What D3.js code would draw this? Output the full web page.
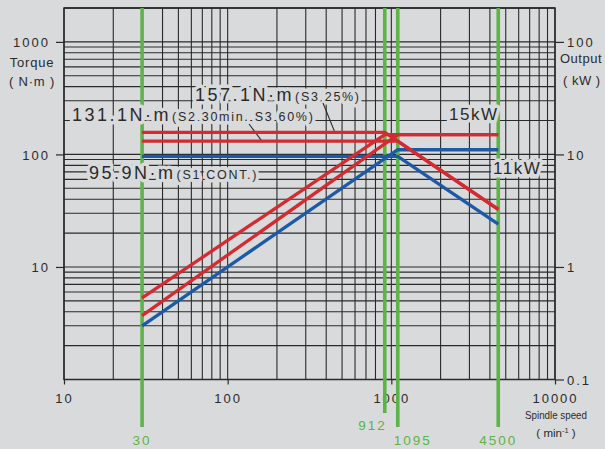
<!DOCTYPE html>
<html>
<head>
<meta charset="utf-8">
<script src="https://cdn.jsdelivr.net/npm/d3@7/dist/d3.min.js"></script>
<style>
  html, body { margin: 0; padding: 0; background: #d9dadc; }
  svg { display: block; font-family: "Liberation Sans", Arial, sans-serif; }
</style>
</head>
<body>
<svg id="chart" width="605" height="449"></svg>
<script>
// Spindle motor output characteristics (torque / output vs. spindle speed)

// Speeds marked on the x axis (min^-1)
const markedSpeeds = [30, 912, 1095, 4500];
const markedSpeedLabels = ["30", "912", "1095", "4500"];

// Duty ratings
const ratings = ["S3 25%", "S2 30min. S3 60%", "S1 CONT."];
const ratingTorque = [157.1, 131.1, 95.9];      // N·m, constant-torque range
const ratingPower = [15, 15, 11];               // kW, constant-power range
const ratingBaseSpeed = [912, 1095, 1095];      // min^-1
const ratingStartPower = [0.53, 0.37, 0.30];    // kW at 30 min^-1
const ratingEndTorque = [32.5, 32.5, 24];       // N·m at 4500 min^-1
const ratingColor = ["#d52a30", "#d52a30", "#1c5aa8"];
const minSpeed = 30;
const maxSpeed = 4500;

// Axis ticks
const speedTicks = [10, 100, 1000, 10000];
const torqueTicks = [10, 100, 1000];
const powerTicks = [0.1, 1, 10, 100];

const svg = d3.select("#chart");
const plot = { left: 64, right: 555, top: 8, bottom: 379.5 };

const x = d3.scaleLog().domain([10, 10000]).range([plot.left, plot.right]);
const yT = d3.scaleLog().domain([1, 2000]).range([plot.bottom, plot.top]);
const yP = d3.scaleLog().domain([0.1, 200]).range([plot.bottom, plot.top]);

const ink = "#2a2a2a";
const green = "#5cb447";
const bg = "#d9dadc";

// Grid
const gridX = [];
for (let d = 10; d < 10000; d *= 10) for (let k = 1; k <= 9; k++) gridX.push(d * k);
gridX.push(10000);
const gridY = [];
for (let d = 1; d < 2000; d *= 10) for (let k = 1; k <= 9; k++) if (d * k <= 2000) gridY.push(d * k);
gridY.push(2000);

const grid = svg.append("g");
grid.selectAll("line.gx").data(gridX).join("line")
  .attr("x1", d => x(d)).attr("x2", d => x(d))
  .attr("y1", plot.top).attr("y2", plot.bottom)
  .attr("stroke", ink).attr("stroke-width", 1.1);
grid.selectAll("line.gy").data(gridY).join("line")
  .attr("x1", plot.left).attr("x2", plot.right)
  .attr("y1", d => yT(d)).attr("y2", d => yT(d))
  .attr("stroke", ink).attr("stroke-width", 1.1);
grid.append("rect")
  .attr("x", plot.left).attr("y", plot.top)
  .attr("width", plot.right - plot.left).attr("height", plot.bottom - plot.top)
  .attr("fill", "none").attr("stroke", ink).attr("stroke-width", 1.5);

// Axes (tick marks and labels)
const xAxis = d3.axisBottom(x).tickValues(speedTicks).tickSize(5).tickFormat(d3.format("d"));
const gx = svg.append("g").attr("transform", `translate(0,${plot.bottom})`).call(xAxis);
gx.select(".domain").remove();
gx.selectAll("line").attr("stroke", ink).attr("stroke-width", 1.2);
gx.selectAll("text").attr("font-size", 13).attr("letter-spacing", 2).attr("fill", ink)
  .attr("dy", null).attr("y", 23.5);

const yAxisL = d3.axisLeft(yT).tickValues(torqueTicks).tickSize(8).tickFormat(d3.format("d"));
const gl = svg.append("g").attr("transform", `translate(${plot.left},0)`).call(yAxisL);
gl.select(".domain").remove();
gl.selectAll("line").attr("stroke", ink).attr("stroke-width", 1.2);
gl.selectAll("text").attr("font-size", 13).attr("letter-spacing", 2).attr("fill", ink)
  .attr("x", -14).attr("dy", "0.36em");

const yAxisR = d3.axisRight(yP).tickValues(powerTicks).tickSize(9).tickFormat(d => String(d));
const gr = svg.append("g").attr("transform", `translate(${plot.right},0)`).call(yAxisR);
gr.select(".domain").remove();
gr.selectAll("line").attr("stroke", ink).attr("stroke-width", 1.2);
gr.selectAll("text").attr("font-size", 13).attr("letter-spacing", 2).attr("fill", ink)
  .attr("x", 12).attr("dy", "0.36em");

// Axis titles
const titles = svg.append("g").attr("fill", ink).attr("font-size", 13);
titles.append("text").attr("x", 32).attr("y", 67).attr("text-anchor", "middle")
  .attr("letter-spacing", 0.8).text("Torque");
titles.append("text").attr("x", 32).attr("y", 86).attr("text-anchor", "middle")
  .attr("letter-spacing", 0.8).text("( N·m )");
titles.append("text").attr("x", 560).attr("y", 63).attr("letter-spacing", 0.5).text("Output");
titles.append("text").attr("x", 563).attr("y", 85).attr("letter-spacing", 0.5).text("( kW )");
titles.append("text").attr("x", 556).attr("y", 419).attr("text-anchor", "middle")
  .attr("font-size", 11.5).attr("textLength", 62).attr("lengthAdjust", "spacingAndGlyphs")
  .text("Spindle speed");
const unit = titles.append("text").attr("x", 556).attr("y", 437).attr("text-anchor", "middle")
  .attr("font-size", 11.5);
unit.append("tspan").text("( min");
unit.append("tspan").attr("font-size", 7.5).attr("dy", -4).text("-1");
unit.append("tspan").attr("dy", 4).text(" )");

// Marked speeds (green guide lines)
const guideBottom = [427, 413, 427, 427];
const guideLabelY = [445, 430, 445, 445];
const guideAnchor = ["middle", "end", "start", "middle"];
const guideDx = [0, 2, -4, 0];
const guides = svg.append("g");
guides.selectAll("line").data(markedSpeeds).join("line")
  .attr("x1", d => x(d)).attr("x2", d => x(d))
  .attr("y1", plot.top).attr("y2", (d, i) => guideBottom[i])
  .attr("stroke", green).attr("stroke-width", 3.6);
guides.selectAll("text").data(markedSpeeds).join("text")
  .attr("x", (d, i) => x(d) + guideDx[i]).attr("y", (d, i) => guideLabelY[i])
  .attr("text-anchor", (d, i) => guideAnchor[i])
  .attr("font-size", 13.5).attr("letter-spacing", 2).attr("fill", green)
  .text((d, i) => markedSpeedLabels[i]);

// Text labels with background halo
const halo = sel => sel.attr("stroke", bg).attr("stroke-width", 7)
  .attr("stroke-linejoin", "round").attr("paint-order", "stroke");

// Leader lines from duty labels to the torque lines
const leaders = [
  { from: [323, 103], speed: 452, torque: ratingTorque[0] },
  { from: [249, 124], speed: 162, torque: ratingTorque[1] }
];

const labelLayer = svg.append("g");
const torqueLabels = [
  { x: 195, y: 101, value: ratingTorque[0], note: ratings[0] },
  { x: 72, y: 121, value: ratingTorque[1], note: ratings[1] },
  { x: 89, y: 179, value: ratingTorque[2], note: ratings[2] }
];
torqueLabels.forEach(l => {
  const t = labelLayer.append("text").attr("x", l.x).attr("y", l.y).attr("fill", ink).call(halo);
  t.append("tspan").attr("font-size", 18).attr("letter-spacing", 2.5).text(`${l.value}N·m`);
  t.append("tspan").attr("font-size", 12.5).attr("letter-spacing", 1.7).attr("dx", 1).text(`(${l.note})`);
});
const powerLabels = [
  { x: 449, y: 119.5, value: ratingPower[0] },
  { x: 493, y: 174, value: ratingPower[2] }
];
powerLabels.forEach(l => {
  labelLayer.append("text").attr("x", l.x).attr("y", l.y).attr("fill", ink)
    .attr("font-size", 17).attr("letter-spacing", 1.5).call(halo).text(`${l.value}kW`);
});
leaders.forEach(l => {
  labelLayer.append("line")
    .attr("x1", l.from[0]).attr("y1", l.from[1])
    .attr("x2", x(l.speed)).attr("y2", yT(l.torque))
    .attr("stroke", ink).attr("stroke-width", 1.1);
});

// Characteristic curves: torque (left axis) and output (right axis)
const torqueLine = d3.line().x(d => x(d[0])).y(d => yT(d[1]));
const powerLine = d3.line().x(d => x(d[0])).y(d => yP(d[1]));
const curves = svg.append("g").attr("fill", "none").attr("stroke-width", 3.3);
const order = [2, 1, 0];
order.forEach(i => {
  const torquePts = [[minSpeed, ratingTorque[i]], [ratingBaseSpeed[i], ratingTorque[i]], [maxSpeed, ratingEndTorque[i]]];
  const powerPts = [[minSpeed, ratingStartPower[i]], [ratingBaseSpeed[i], ratingPower[i]], [maxSpeed, ratingPower[i]]];
  curves.append("path").attr("d", torqueLine(torquePts)).attr("stroke", ratingColor[i]);
  curves.append("path").attr("d", powerLine(powerPts)).attr("stroke", ratingColor[i]);
});
</script>
</body>
</html>
